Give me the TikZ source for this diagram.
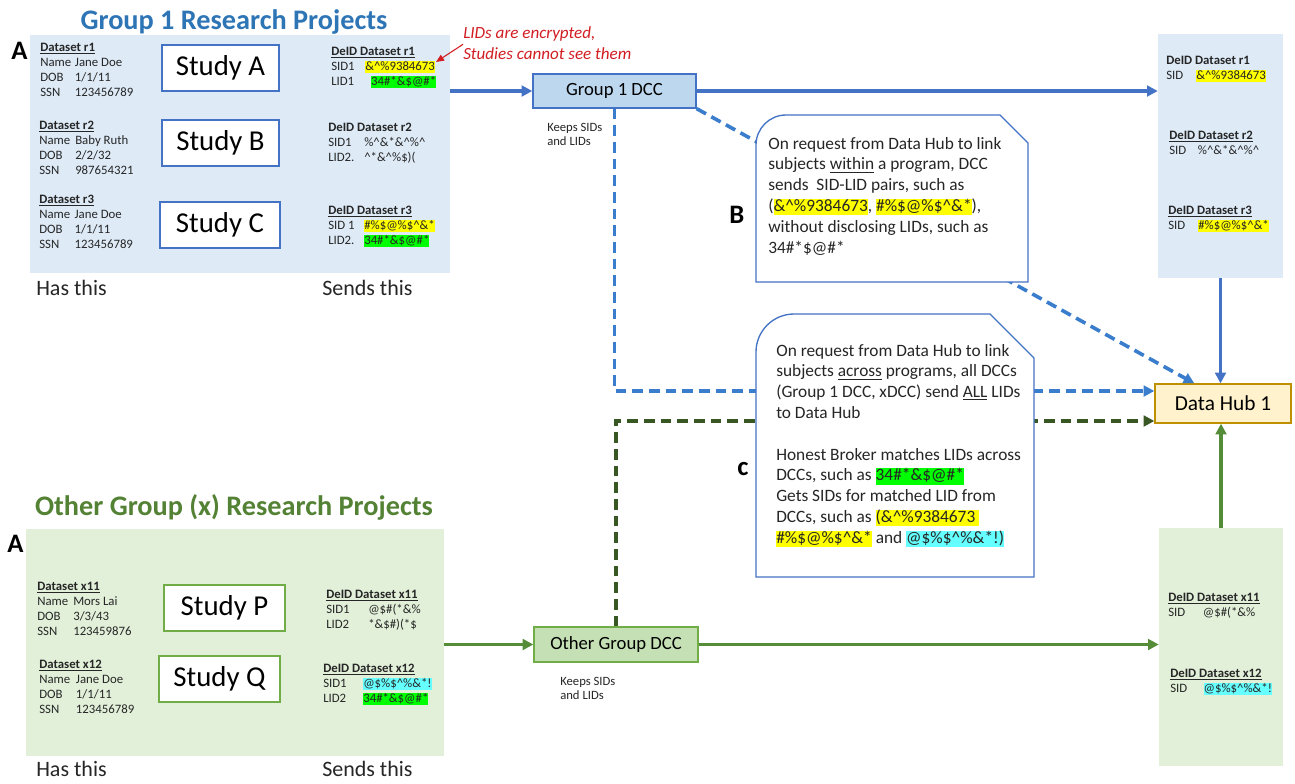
\documentclass[tikz,border=0pt]{standalone}
\usepackage{fontspec}
\setmainfont{Carlito}
\usetikzlibrary{arrows.meta,calc}
\definecolor{tblue}{RGB}{46,117,182}
\definecolor{tgreen}{RGB}{84,130,53}
\definecolor{pblue}{RGB}{222,235,247}
\definecolor{pgreen}{RGB}{226,240,217}
\definecolor{sblue}{RGB}{68,114,196}
\definecolor{sgreen}{RGB}{112,173,71}
\definecolor{dfillb}{RGB}{189,215,238}
\definecolor{dfillg}{RGB}{197,224,180}
\definecolor{hubfill}{RGB}{255,242,204}
\definecolor{hubdraw}{RGB}{191,144,0}
\definecolor{arrb}{RGB}{68,114,196}
\definecolor{dashbc}{RGB}{58,125,205}
\definecolor{arrg}{RGB}{84,140,55}
\definecolor{dashgc}{RGB}{56,87,35}
\definecolor{notered}{RGB}{210,30,35}
\definecolor{hly}{RGB}{255,255,0}
\definecolor{hlg}{RGB}{0,255,0}
\definecolor{hlc}{RGB}{102,255,255}
\definecolor{dtext}{RGB}{38,38,38}
\newcommand\hlbox[2]{{\setlength{\fboxsep}{0pt}\colorbox{#1}{\rule[-0.22em]{0pt}{0.95em}#2}}}
\newcommand\crt{\textasciicircum}
\newcommand\dsfont{\fontsize{9.6}{11.25}\selectfont}
\newcommand\dstab[3]{\begin{tabular}[t]{@{}p{#1}@{}l@{}}\multicolumn{2}{@{}l@{}}{\bfseries #2}\\#3\end{tabular}}
\newcommand\onecol[1]{\begin{tabular}[t]{@{}l@{}}#1\end{tabular}}
\tikzset{
  panel/.style={fill=#1, draw=none, inner sep=0},
  wd/.style={minimum width=#1*0.75pt},
  ht/.style={minimum height=#1*0.75pt},
  study/.style={draw=#1, line width=1.3pt, fill=white, font=\fontsize{21.6}{24}\selectfont, inner sep=0},
  dcc/.style 2 args={draw=#1, fill=#2, line width=1pt, font=\fontsize{14}{16}\selectfont, inner sep=0},
  txt/.style={inner sep=0, anchor=base west},
  title/.style={inner sep=0, anchor=base, font=\bfseries\fontsize{21.2}{24}\selectfont},
  letter/.style={txt, font=\bfseries\fontsize{20}{22}\selectfont},
  ds/.style={txt, font=\dsfont, text=dtext},
  small/.style={txt, font=\fontsize{9.5}{10.5}\selectfont, text=dtext},
  big/.style={txt, font=\fontsize{16.5}{19}\selectfont, text=dtext},
  ctext/.style={txt, font=\fontsize{13}{15.6}\selectfont, text=dtext},
  callout/.style={draw=sblue, line width=1pt, fill=white},
  solidb/.style={draw=arrb, line width=2.3pt, -{Triangle[length=8pt,width=8pt]}},
  solidg/.style={draw=arrg, line width=2.3pt, -{Triangle[length=8pt,width=8pt]}},
  dashb/.style={draw=dashbc, line width=2.7pt, dash pattern=on 8pt off 4.5pt, -{Triangle[length=8pt,width=8pt]}},
  dashg/.style={draw=dashgc, line width=2.7pt, dash pattern=on 8pt off 4.5pt, -{Triangle[length=8pt,width=8pt]}},
  redarr/.style={draw=notered, line width=0.8pt, -{Triangle[length=6pt,width=5pt]}}
}
\begin{document}
\begin{tikzpicture}[x=0.75pt,y=-0.75pt]
\useasboundingbox (0,0) rectangle (1295,783);
\fill[white] (0,0) rectangle (1295,783);
% panels
\node[panel=pblue, wd=420, ht=238] (p1) at (240,154) {};
\node[panel=pblue, wd=125, ht=244] (rp1) at (1220.5,156) {};
\node[panel=pgreen, wd=418, ht=227] (p2) at (235,642.5) {};
\node[panel=pgreen, wd=124, ht=238] (rp2) at (1221,647) {};
% titles and letters
\node[title, text=tblue] (t1) at (234,29) {Group 1 Research Projects};
\node[title, text=tgreen] (t2) at (234,515) {Other Group (x) Research Projects};
\node[letter] (la1) at (11,59) {A};
\node[letter] (la2) at (7,552) {A};
\node[letter] (lb) at (729,223) {B};
\node[letter] (lc) at (737,475) {c};
% studies
\node[study=sblue, wd=117, ht=46] (sA) at (220.5,68) {Study A};
\node[study=sblue, wd=117, ht=46] (sB) at (220.5,143) {Study B};
\node[study=sblue, wd=120, ht=46] (sC) at (220,225) {Study C};
\node[study=sgreen, wd=121, ht=46] (sP) at (224.5,608) {Study P};
\node[study=sgreen, wd=121, ht=46] (sQ) at (219.5,679) {Study Q};
% DCCs and hub
\node[dcc={sblue}{dfillb}, wd=163, ht=34] (g1) at (614.5,91) {Group 1 DCC};
\node[dcc={sgreen}{dfillg}, wd=164, ht=35] (og) at (616,644.5) {Other Group DCC};
\node[dcc={hubdraw}{hubfill}, wd=136, ht=39, font=\fontsize{16}{18}\selectfont] (hub) at (1223,403.5) {Data Hub 1};
% solid connectors
\draw[solidb] (p1.east |- g1.west) -- (g1.west);
\draw[solidb] (g1.east) -- (rp1.west |- g1.east);
\draw[solidb] (rp1.south) -- (rp1.south |- hub.north);
\draw[solidg] (rp2.north) -- (rp2.north |- hub.south);
\draw[solidg] (p2.east |- og.west) -- (og.west);
\draw[solidg] (og.east) -- (rp2.west |- og.east);
% dashed connectors
\draw[dashb] (g1.south) |- ($(hub.west)+(0,-12.5)$);
\draw[dashg] (og.north) |- ($(hub.west)+(0,17.5)$);
\draw[dashb] (g1.south east) -- ($(hub.north west)+(40,0)$);
% callouts
\draw[callout] (756,282) -- (756,145) arc[start angle=180, end angle=270, radius=30] -- (1000,115) -- (1028,143) -- (1028,282) -- cycle;
\draw[callout] (756,577) -- (756,352) arc[start angle=180, end angle=270, radius=38] -- (990,314) -- (1034,358) -- (1034,577) -- cycle;
\node[ctext] (cB) at (768,149) {\onecol{On request from Data Hub to link\\
subjects \underline{within} a program, DCC\\
sends\ \ SID-LID pairs, such as\\
(\hlbox{hly}{\&\crt\%9384673}, \hlbox{hly}{\#\%\$@\%\$\crt\&*}),\\
without disclosing LIDs, such as\\
34\#*\$@\#*}};
\node[ctext] (cC) at (776,356) {\onecol{On request from Data Hub to link\\
subjects \underline{across} programs, all DCCs\\
(Group 1 DCC, xDCC) send \underline{ALL} LIDs\\
to Data Hub\\
\\
Honest Broker matches LIDs across\\
DCCs, such as \hlbox{hlg}{34\#*\&\$@\#*}\\
Gets SIDs for matched LID from\\
DCCs, such as \hlbox{hly}{(\&\crt\%9384673\ }\\
\hlbox{hly}{\#\%\$@\%\$\crt\&*} and \hlbox{hlc}{@\$\%\$\crt\%\&*!)}}};
% red note
\node[txt, text=notered, font=\itshape\fontsize{12.8}{15.75}\selectfont] (note) at (463,38) {\onecol{LIDs are encrypted,\\Studies cannot see them}};
\coordinate (redtip) at (436,62);
\draw[redarr] (note.west) -- (redtip);
% keeps
\node[small] (k1) at (547,131) {\onecol{Keeps SIDs\\and LIDs}};
\node[small] (k2) at (560,685) {\onecol{Keeps SIDs\\and LIDs}};
% has / sends
\node[big] (h1) at (36,295) {Has this};
\node[big] (s1) at (322,295) {Sends this};
\node[big] (h2) at (36,776) {Has this};
\node[big] (s2) at (322,776) {Sends this};
% group 1 datasets
\node[ds] (r1) at (40,51) {\dstab{26pt}{\underline{Dataset r1}}{Name & Jane Doe\\DOB & 1/1/11\\SSN & 123456789}};
\node[ds] (r2) at (39,129.5) {\dstab{27pt}{\underline{Dataset r2}}{Name & Baby Ruth\\DOB & 2/2/32\\SSN & 987654321}};
\node[ds] (r3) at (39,203.5) {\dstab{26.5pt}{\underline{Dataset r3}}{Name & Jane Doe\\DOB & 1/1/11\\SSN & 123456789}};
\node[ds] (d1) at (331,55) {\dstab{25.5pt}{\underline{DeID Dataset r1}}{SID1 & \hlbox{hly}{\&\crt\%9384673}\\LID1 & \ \ \hlbox{hlg}{34\#*\&\$@\#*}}};
\node[ds] (d2) at (328,131.5) {\dstab{27pt}{DeID Dataset r2}{SID1 & \%\crt\&*\&\crt\%\crt\\LID2. & \crt*\&\crt\%\$)(}};
\node[ds] (d3) at (328,214.5) {\dstab{27pt}{\underline{DeID Dataset r3}}{SID 1 & \hlbox{hly}{\#\%\$@\%\$\crt\&*}\\LID2. & \hlbox{hlg}{34\#*\&\$@\#*}}};
% right top
\node[ds] (e1) at (1166,64) {\dstab{22.5pt}{DeID Dataset r1}{SID & \hlbox{hly}{\&\crt\%9384673}}};
\node[ds] (e2) at (1169,139) {\dstab{21.5pt}{\underline{DeID Dataset r2}}{SID & \%\crt\&*\&\crt\%\crt}};
\node[ds] (e3) at (1168,214) {\dstab{22.5pt}{\underline{DeID Dataset r3}}{SID & \hlbox{hly}{\#\%\$@\%\$\crt\&*}}};
% other group datasets
\node[ds] (x1) at (37,590) {\dstab{27pt}{\underline{Dataset x11}}{Name & Mors Lai\\DOB & 3/3/43\\SSN & 123459876}};
\node[ds] (x2) at (39,668) {\dstab{27.5pt}{\underline{Dataset x12}}{Name & Jane Doe\\DOB & 1/1/11\\SSN & 123456789}};
\node[ds] (y1) at (326,598) {\dstab{31.5pt}{\underline{DeID Dataset x11}}{SID1 & @\$\#(*\&\%\\LID2 & *\&\$\#)(*\$}};
\node[ds] (y2) at (323,672) {\dstab{30pt}{\underline{DeID Dataset x12}}{SID1 & \hlbox{hlc}{@\$\%\$\crt\%\&*!}\\LID2 & \hlbox{hlg}{34\#*\&\$@\#*}}};
% right bottom
\node[ds] (z1) at (1168,601) {\dstab{26pt}{\underline{DeID Dataset x11}}{SID & @\$\#(*\&\%}};
\node[ds] (z2) at (1170,677) {\dstab{25pt}{\underline{DeID Dataset x12}}{SID & \hlbox{hlc}{@\$\%\$\crt\%\&*!}}};
\end{tikzpicture}
\end{document}
